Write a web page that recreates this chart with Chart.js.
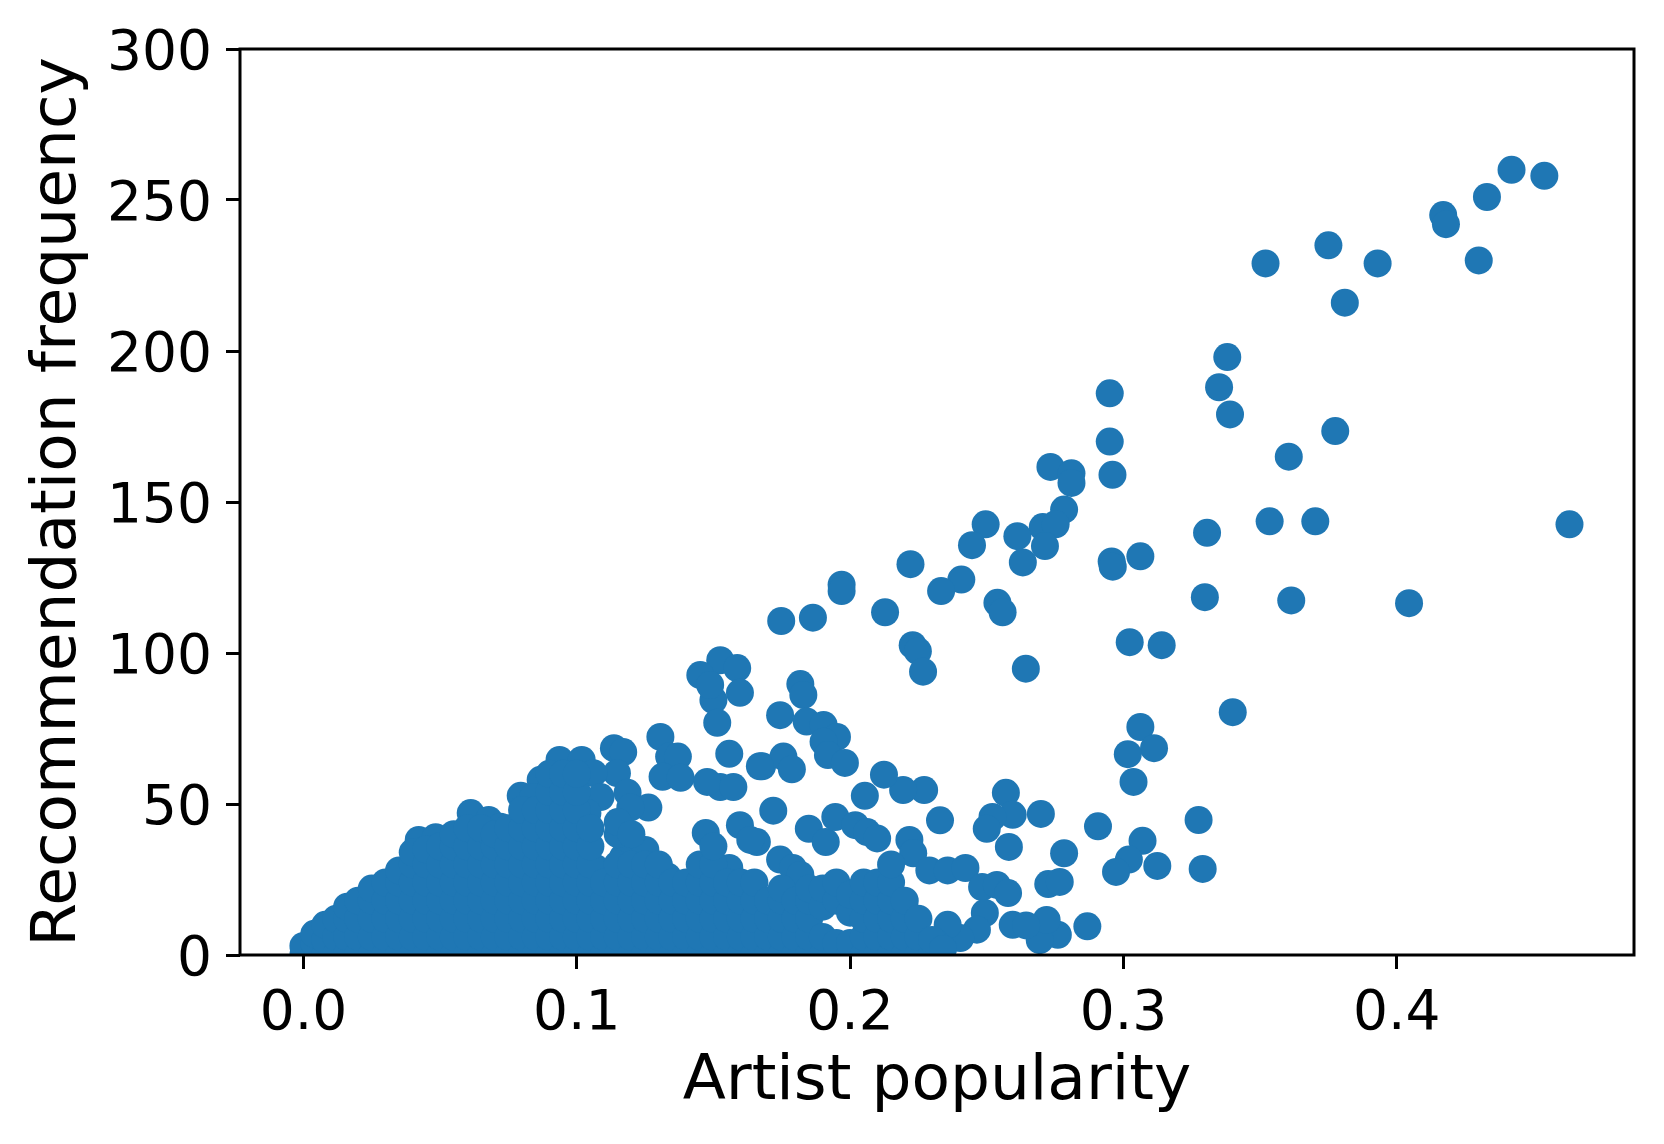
<!DOCTYPE html>
<html>
<head>
<meta charset="utf-8">
<script src="https://cdn.jsdelivr.net/npm/chart.js@4.4.0/dist/chart.umd.min.js"></script>
<style>
html,body{margin:0;padding:0;background:#fff;}
#wrap{width:1664px;height:1144px;position:relative;}
</style>
</head>
<body>
<div id="wrap"><canvas id="c" width="1664" height="1144"></canvas></div>
<script>
// Axis texts and ticks
const xTitle = "Artist popularity";
const yTitle = "Recommendation frequency";
const xTicks = [0.0, 0.1, 0.2, 0.3, 0.4];
const yTicks = [0, 50, 100, 150, 200, 250, 300];

// Isolated points [popularity, frequency]
const scatteredPoints = [
  [0.442,260],[0.454,258],[0.433,251],[0.417,245],[0.418,242],[0.430,230],[0.375,235],[0.393,229],
  [0.352,229],[0.381,216],[0.338,198],[0.335,188],[0.339,179],[0.295,186],[0.295,170],[0.296,159],
  [0.3775,173.5],[0.3605,165],[0.2733,161.6],[0.281,159.5],[0.281,156.3],[0.2783,147.5],[0.2705,141.7],
  [0.2752,142.6],[0.2612,138.7],[0.2713,135.4],[0.2632,130],[0.2496,142.6],[0.2446,135.7],[0.2221,129.4],
  [0.2407,124.3],[0.2333,120.5],[0.1969,122.6],[0.1969,120.5],[0.1748,110.6],[0.1864,111.7],[0.2128,113.5],
  [0.2539,116.6],[0.2558,113.5],[0.2957,130.3],[0.2961,128.6],[0.3062,132],[0.3306,139.8],[0.3535,143.6],
  [0.3702,143.6],[0.4632,142.6],[0.3298,118.5],[0.3614,117.4],[0.4045,116.5],[0.3023,103.6],[0.314,102.6],
  [0.2229,102.6],[0.2248,100.6],[0.2267,93.8],[0.2643,94.8],[0.340,80.4],[0.3062,75.5],[0.3112,68.5],
  [0.3016,66.5],[0.3037,57.3],[0.3275,44.7],[0.2907,42.6],[0.307,37.8],[0.302,31.6],[0.2973,27.5],
  [0.3124,29.5],[0.329,28.5],[0.2783,33.7],[0.2725,23.5],[0.2767,24.2],[0.2868,9.5],[0.276,6.7],
  [0.2694,4.9],[0.2719,11.6],[0.2595,10],[0.2644,9.8],[0.257,53.7],[0.2595,46.4],[0.2521,45.7],
  [0.25,41.8],[0.2698,46.7],[0.2581,35.8],[0.2329,44.6],[0.2271,54.6],[0.2194,54.6],[0.2124,59.7],
  [0.2054,52.7],[0.2217,38.1],[0.2231,33.7],[0.229,28],[0.2357,28],[0.2422,28.8],[0.2483,22.5],
  [0.2537,23.2],[0.2578,20.5],[0.2493,13.9],[0.2464,8.4],[0.2403,5.6],[0.2357,10],[0.2314,4],
  [0.1525,97.6],[0.1452,92.7],[0.1587,95],[0.1597,86.8],[0.15,84.4],[0.1488,89.4],[0.1514,76.9],
  [0.1818,89.7],[0.1829,86.1],[0.1744,79.4],[0.1841,77.3],[0.1903,76.2],[0.1952,72.2],[0.1903,70.6],
  [0.1919,66.2],[0.1981,63.6],[0.1678,62.5],[0.1756,65.7],[0.1787,61.5],[0.1719,47.8],[0.1849,41.8],
  [0.1911,37.4],[0.1946,45.7],[0.2019,43],[0.2062,40.7],[0.2099,38.6],[0.1659,37.4],[0.1744,31.6],
  [0.1791,28.8],[0.1818,26.5],
  [0.1558,66.6],[0.167,62.5],[0.1306,72.2],[0.1338,65.7],[0.137,65.7],[0.1314,59],[0.138,58.7],
  [0.1136,68.5],[0.117,67.2],[0.1147,60.2],[0.1186,53.7],[0.1262,48.8],[0.1196,48.8],[0.0937,64.6],
  [0.1018,64.6],[0.0868,58],[0.0795,52.7],[0.1061,60.2],[0.1087,52.3],[0.1039,47],[0.1025,39],
  [0.0988,37],[0.0868,31.6],[0.1068,28.8],[0.117,32.5],[0.1251,34.8],[0.1332,26],[0.1426,22.2],
  [0.1558,28.8],[0.1472,40.4],[0.1597,43],[0.1635,38.1],[0.1525,55.6],[0.1477,57.3],[0.1573,55.6],
  [0.0612,47],[0.0678,44.7],[0.0721,42.5],[0.0422,38.1],[0.0484,39],[0.0841,52.3]
];

// Dense low-popularity cluster, read column by column: [popularity, [frequencies...]]
const clusterColumns = [
  [0.000,[0,3]],
  [0.004,[0,4,7]],
  [0.008,[0,5,10]],
  [0.012,[0,6,12]],
  [0.016,[0,6,12,16]],
  [0.020,[0,6,12,18]],
  [0.025,[0,6,12,18,22]],
  [0.030,[0,6,12,18,24]],
  [0.035,[0,6,12,18,24,28]],
  [0.040,[0,6,12,18,24,30,34]],
  [0.045,[0,6,12,18,24,30,35]],
  [0.050,[0,6,12,18,24,30,36]],
  [0.055,[0,6,12,18,24,30,36,40]],
  [0.060,[0,6,12,18,24,30,36,42]],
  [0.065,[0,6,12,18,24,30,36,42]],
  [0.070,[0,6,12,18,24,30,36,40]],
  [0.075,[0,6,12,18,24,30,36,42]],
  [0.080,[0,6,12,18,24,30,36,42,48]],
  [0.085,[0,6,12,18,24,30,36,42,48]],
  [0.090,[0,6,12,18,24,30,36,42,48,54,60]],
  [0.095,[0,6,12,18,24,30,36,42,48,54,60]],
  [0.100,[0,6,12,18,24,30,36,42,48,54,60]],
  [0.105,[0,6,12,18,24,30,36,42]],
  [0.110,[0,6,12,18,24]],
  [0.115,[0,6,12,18,24,30,40,44]],
  [0.120,[0,6,12,18,24,30,40]],
  [0.125,[0,6,12,18,24,30]],
  [0.130,[0,6,12,18,24,30]],
  [0.135,[0,6,12,18,24]],
  [0.140,[0,6,12,18,24]],
  [0.145,[0,6,12,18,24,30]],
  [0.150,[0,6,12,18,24,30,36]],
  [0.155,[0,6,12,18,24]],
  [0.160,[0,6,12,18,24]],
  [0.165,[0,6,12,18,24]],
  [0.170,[0,6,12,18]],
  [0.175,[0,6,12,18,22]],
  [0.180,[0,6,12,18]],
  [0.185,[0,6,12,18,22]],
  [0.190,[0,6,16,22]],
  [0.195,[0,4,18,24]],
  [0.200,[0,4,14,20]],
  [0.205,[0,6,12,18,24]],
  [0.210,[0,6,12,18,24]],
  [0.215,[0,6,12,18,24,30]],
  [0.220,[0,6,12,18]],
  [0.225,[0,6,12]],
  [0.230,[0,5]],
  [0.234,[2]]
];

const pointData = [];
scatteredPoints.forEach(p => pointData.push({x: p[0], y: p[1]}));
clusterColumns.forEach(col => col[1].forEach(v => pointData.push({x: col[0], y: v})));

const FONT = "'DejaVu Sans', sans-serif";

const frame = {
  id: 'frame',
  afterDraw(chart) {
    const a = chart.chartArea, ctx = chart.ctx;
    ctx.save();
    ctx.strokeStyle = '#000';
    ctx.lineWidth = 3;
    ctx.strokeRect(a.left, a.top, a.right - a.left, a.bottom - a.top);
    ctx.restore();
  }
};

new Chart(document.getElementById('c'), {
  type: 'scatter',
  data: {
    datasets: [{
      data: pointData,
      pointRadius: 14,
      pointHoverRadius: 14,
      pointBackgroundColor: '#1f77b4',
      pointBorderWidth: 0,
      borderWidth: 0,
      clip: 0
    }]
  },
  options: {
    responsive: false,
    animation: false,
    events: [],
    layout: { padding: { top: 49, right: 30, left: 0, bottom: 0 } },
    plugins: { legend: { display: false }, tooltip: { enabled: false } },
    scales: {
      x: {
        type: 'linear',
        min: -0.0232,
        max: 0.4868,
        afterBuildTicks: s => { s.ticks = xTicks.map(v => ({value: v})); },
        afterFit: s => { s.height = 189; },
        grid: { drawOnChartArea: false, drawTicks: true, tickLength: 14, tickWidth: 3, tickColor: '#000' },
        border: { display: false },
        ticks: {
          padding: 13,
          color: '#000',
          font: { family: FONT, size: 55 },
          maxRotation: 0,
          callback: v => Number(v).toFixed(1)
        },
        title: {
          display: true, text: xTitle, color: '#000',
          font: { family: FONT, size: 63 },
          padding: { top: 0, bottom: 24 }
        }
      },
      y: {
        type: 'linear',
        min: 0,
        max: 300,
        afterBuildTicks: s => { s.ticks = yTicks.map(v => ({value: v})); },
        afterFit: s => { s.width = 240; },
        grid: { drawOnChartArea: false, drawTicks: true, tickLength: 14, tickWidth: 3, tickColor: '#000' },
        border: { display: false },
        ticks: {
          padding: 14,
          labelOffset: 6,
          color: '#000',
          font: { family: FONT, size: 55 },
          callback: v => String(v)
        },
        title: {
          display: true, text: yTitle, color: '#000',
          font: { family: FONT, size: 63 },
          padding: { top: 21, bottom: 0 }
        }
      }
    }
  },
  plugins: [frame]
});
</script>
</body>
</html>
